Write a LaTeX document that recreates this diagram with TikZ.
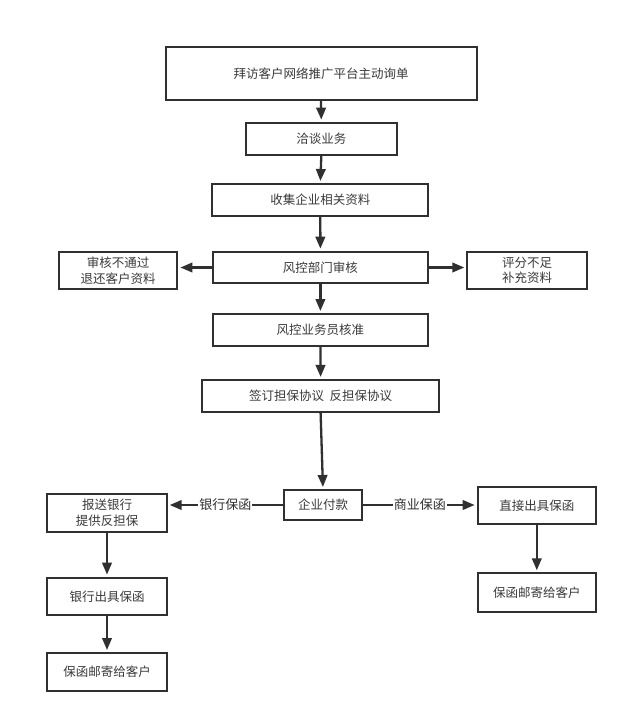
\documentclass[tikz,border=0pt]{standalone}
\usepackage{fontspec}
\newfontfamily\cjk{Noto Sans CJK SC}
\usetikzlibrary{arrows.meta}
\definecolor{ln}{HTML}{303030}
\definecolor{tx}{HTML}{3A3A3A}
\tikzset{
  box/.style={draw=ln, line width=2pt, fill=white, inner sep=0pt, align=center,
    font=\cjk\fontsize{12.5pt}{15.6pt}\selectfont, text=tx},
  flow/.style={draw=ln, line width=2.3pt, -{Triangle[length=12pt,width=9.5pt]}, shorten >=2pt},
  elabel/.style={fill=white, inner sep=1pt, font=\cjk\fontsize{13pt}{15pt}\selectfont, text=ln}
}
\begin{document}
\begin{tikzpicture}[x=1pt,y=-1pt]
\useasboundingbox[fill=white] (0,0) rectangle (626,722);
\node[box, minimum width=311pt, minimum height=52.7pt] (n1) at (321,73.7) {拜访客户网络推广平台主动询单};
\node[box, minimum width=150.7pt, minimum height=32.3pt] (n2) at (321.3,138.8) {洽谈业务};
\node[box, minimum width=216pt, minimum height=32pt] (n3) at (320.3,200) {收集企业相关资料};
\node[box, minimum width=215.8pt, minimum height=31.6pt] (n4) at (320.4,267.5) {风控部门审核};
\node[box, minimum width=118.8pt, minimum height=37.6pt] (nl) at (118,270.5) {审核不通过\\退还客户资料};
\node[box, minimum width=119.4pt, minimum height=37.6pt] (nr) at (527,270.5) {评分不足\\补充资料};
\node[box, minimum width=215.8pt, minimum height=32pt] (n5) at (320.4,330) {风控业务员核准};
\node[box, minimum width=237.3pt, minimum height=31.7pt] (n6) at (320.6,395.8) {签订担保协议\ \ 反担保协议};
\node[box, minimum width=78pt, minimum height=30pt] (n7) at (323,505) {企业付款};
\node[box, minimum width=119.4pt, minimum height=37.7pt] (b1) at (107,512.8) {报送银行\\提供反担保};
\node[box, minimum width=119.4pt, minimum height=37.3pt] (b2) at (107,596.3) {银行出具保函};
\node[box, minimum width=119.4pt, minimum height=38pt] (b3) at (107,672) {保函邮寄给客户};
\node[box, minimum width=118.3pt, minimum height=37.3pt] (c1) at (536.8,505.3) {直接出具保函};
\node[box, minimum width=118.3pt, minimum height=38.4pt] (c2) at (536.8,592.5) {保函邮寄给客户};

\draw[flow] (n1.south) -- (n2.north);
\draw[flow] (n2.south) -- (n3.north);
\draw[flow] (n3.south) -- (n4.north);
\draw[flow] (n4.west) -- (n4.west -| nl.east);
\draw[flow] (n4.east) -- (n4.east -| nr.west);
\draw[flow] (n4.south) -- (n5.north);
\draw[flow] (n5.south) -- (n6.north);
\draw[flow] (n6.south) -- (n7.north);
\draw[flow] (n7.west) -- node[elabel] {银行保函} (n7.west -| b1.east);
\draw[flow] (n7.east) -- node[elabel] {商业保函} (n7.east -| c1.west);
\draw[flow] (b1.south) -- (b2.north);
\draw[flow] (b2.south) -- (b3.north);
\draw[flow] (c1.south) -- (c2.north);
\end{tikzpicture}
\end{document}
